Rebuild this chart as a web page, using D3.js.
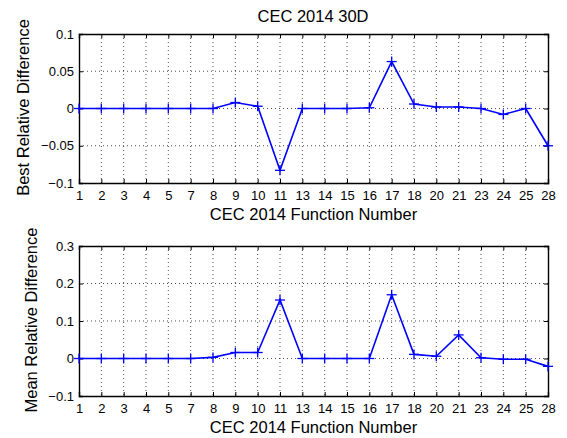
<!DOCTYPE html>
<html>
<head>
<meta charset="utf-8">
<script src="https://cdn.jsdelivr.net/npm/d3@7"></script>
<style>
  body { margin: 0; background: #fff; }
  svg { font-family: "Liberation Sans", Arial, sans-serif; }
  .grid line { stroke: #222; stroke-width: 0.8; stroke-dasharray: 1 3; }
</style>
</head>
<body>
<svg width="567" height="438"></svg>
<script>
// function numbers on the x axis
var funcs = ["1","2","3","4","5","7","8","9","10","11","13","14","15","16","17","18","20","21","23","24","25","28"];
// best relative difference per function
var bestDiff = [0,0,0,0,0,0,0,0.008,0.003,-0.083,0,0,0,0.001,0.063,0.006,0.002,0.002,0,-0.008,0,-0.05];
// mean relative difference per function
var meanDiff = [0,0,0,0,0,0,0.003,0.016,0.016,0.156,0,0,0,0,0.17,0.011,0.006,0.063,0.002,-0.002,-0.002,-0.021];

var bestTicks = [-0.1, -0.05, 0, 0.05, 0.1];
var meanTicks = [-0.1, 0, 0.1, 0.2, 0.3];

var svg = d3.select("svg");
var left = 79, right = 548;

var x = d3.scalePoint().domain(funcs).range([left, right]);

svg.append("text")
  .attr("x", 313).attr("y", 22)
  .attr("text-anchor", "middle")
  .attr("font-size", 16.5)
  .text("CEC 2014 30D");

function panel(data, ticks, top, bottom, ylabel, labelX, fmt){
  var y = d3.scaleLinear().domain([ticks[0], ticks[ticks.length-1]]).range([bottom, top]);
  var g = svg.append("g");

  // grid
  var grid = g.append("g").classed("grid", true);
  grid.selectAll(".vx").data(funcs.slice(1, -1)).enter()
    .append("line")
    .attr("x1", d=> x(d)).attr("x2", d=> x(d))
    .attr("y1", top).attr("y2", bottom);
  grid.selectAll(".hy").data(ticks.slice(1, -1)).enter()
    .append("line")
    .attr("x1", left).attr("x2", right)
    .attr("y1", d=> y(d)).attr("y2", d=> y(d));

  // axes, ticks pointing inwards like matlab
  var xAxis = d3.axisBottom(x).tickSize(-4).tickPadding(8);
  var xTop = d3.axisTop(x).tickSize(-4).tickFormat("");
  var yAxis = d3.axisLeft(y).tickValues(ticks).tickSize(-4).tickPadding(5).tickFormat(fmt);
  var yRight = d3.axisRight(y).tickValues(ticks).tickSize(-4).tickFormat("");

  [
    g.append("g").attr("transform", `translate(0,${bottom})`).call(xAxis),
    g.append("g").attr("transform", `translate(0,${top})`).call(xTop),
    g.append("g").attr("transform", `translate(${left},0)`).call(yAxis),
    g.append("g").attr("transform", `translate(${right},0)`).call(yRight)
  ].forEach(a=>{
    a.select(".domain").attr("stroke", "#000").attr("stroke-width", 1.4);
    a.selectAll(".tick line").attr("stroke", "#000");
    a.selectAll("text").attr("font-size", 13).attr("fill", "#000").attr("font-family", "Liberation Sans, Arial, sans-serif");
  });

  // line and plus markers
  var line = d3.line().x((d, i)=> x(funcs[i])).y(d=> y(d));
  g.append("path")
    .datum(data)
    .attr("d", line)
    .attr("fill", "none")
    .attr("stroke", "#0000ff")
    .attr("stroke-width", 1.6);

  var m = g.selectAll(".mk").data(data).enter().append("g")
    .attr("transform", (d, i)=> `translate(${x(funcs[i])},${y(d)})`);
  m.append("line").attr("x1", -5).attr("x2", 5).attr("stroke", "#0000ff").attr("stroke-width", 1.3);
  m.append("line").attr("y1", -5).attr("y2", 5).attr("stroke", "#0000ff").attr("stroke-width", 1.3);

  svg.append("text")
    .attr("x", (left+right)/2).attr("y", bottom + 37)
    .attr("text-anchor", "middle").attr("font-size", 16.5)
    .text("CEC 2014 Function Number");

  svg.append("text")
    .attr("transform", `translate(${labelX},${(top+bottom)/2 - 1}) rotate(-90)`)
    .attr("text-anchor", "middle").attr("font-size", 16.5)
    .text(ylabel);
}

var fmtBest = d=> d === 0 ? "0" : d3.format("")(d).replace("-", "\u2212");
var fmtMean = d=> d === 0 ? "0" : d3.format(".1f")(d).replace("-", "\u2212");

panel(bestDiff, bestTicks, 34, 183, "Best Relative Difference", 29, fmtBest);
panel(meanDiff, meanTicks, 246, 396, "Mean Relative Difference", 37, fmtMean);
</script>
</body>
</html>
